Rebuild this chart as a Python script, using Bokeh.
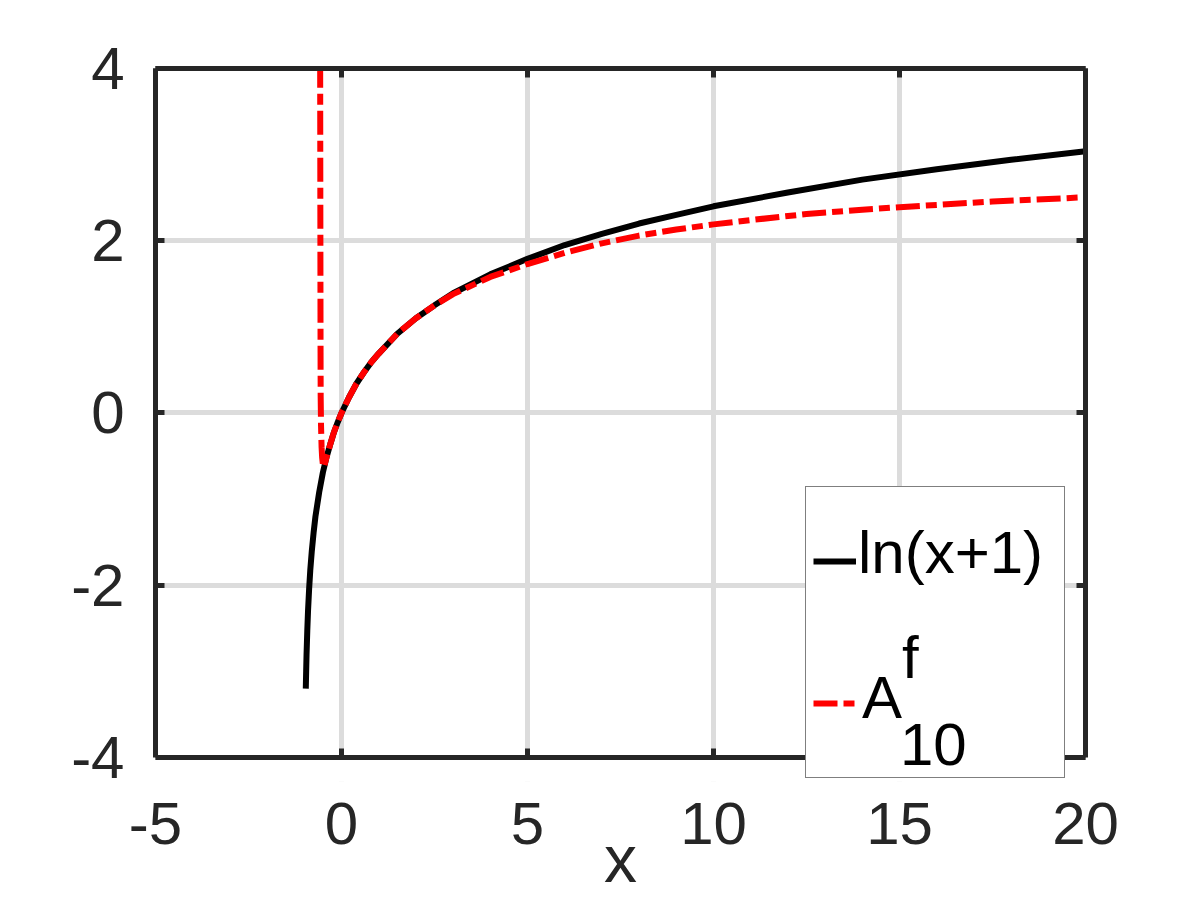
from bokeh.plotting import figure
from bokeh.models import Range1d, LinearAxis, FixedTicker, Legend, LegendItem, BoxAnnotation
from bokeh.embed import file_html
from bokeh.resources import INLINE

# ---- data ----
ln_x = [-0.96, -0.95, -0.94, -0.92, -0.9, -0.87, -0.84, -0.8, -0.75, -0.7, -0.6, -0.5,
        -0.4, -0.3, -0.2, -0.1, 0.0, 0.2, 0.4, 0.6, 0.8, 1.0, 1.5, 2.0, 2.5, 3.0, 4.0,
        5.0, 6.0, 7.0, 8.0, 9.0, 10.0, 12.0, 14.0, 16.0, 18.0, 20.0]
ln_y = [-3.2, -3.0, -2.81, -2.53, -2.30, -2.04, -1.83, -1.61, -1.39, -1.20, -0.92, -0.69,
        -0.51, -0.36, -0.22, -0.105, 0.0, 0.18, 0.34, 0.47, 0.59, 0.69, 0.92, 1.10, 1.25, 1.39, 1.61,
        1.79, 1.95, 2.08, 2.20, 2.30, 2.40, 2.56, 2.71, 2.83, 2.94, 3.04]

af_x = [-0.575, -0.572, -0.569, -0.566, -0.563, -0.56, -0.55, -0.535, -0.52, -0.5, -0.48,
        -0.46, -0.43, -0.4, -0.3, -0.2, -0.1, 0.0, 0.2, 0.4, 0.6, 0.8, 1.0, 1.5, 2.0, 2.5,
        3.0, 4.0, 5.0, 6.0, 7.0, 8.0, 9.0, 10.0, 11.0, 12.5, 14.0, 15.0, 17.5, 20.0]
af_y = [4.6, 3.5, 2.5, 1.5, 0.7, 0.2, -0.15, -0.4, -0.52, -0.6, -0.63,
        -0.61, -0.56, -0.51, -0.36, -0.22, -0.105, 0.0, 0.18, 0.34, 0.47, 0.59, 0.69, 0.92, 1.10, 1.25,
        1.38, 1.58, 1.73, 1.86, 1.97, 2.06, 2.13, 2.19, 2.24, 2.31, 2.36, 2.39, 2.455, 2.505]

x_ticks = [-5, 0, 5, 10, 15, 20]
x_tick_labels = ["-5", "0", "5", "10", "15", "20"]
y_ticks = [-4, -2, 0, 2, 4]
y_tick_labels = ["-4", "-2", "0", "2", "4"]

legend_main = ["ln(x+1)", "A"]
legend_sup = "f"
legend_sub = "10"
x_label = "x"

X_MIN, X_MAX = -5, 20
Y_MIN, Y_MAX = -4, 4
# the frame reaches a little below y = -4 so that the legend box may hang past the axis
Y_FRAME_MIN = -4.2787

FONT = "Liberation Sans"
AXIS_COLOR = "#262626"

p = figure(width=1200, height=900, x_range=Range1d(X_MIN, X_MAX), y_range=Range1d(Y_FRAME_MIN, Y_MAX),
           output_backend="svg", toolbar_location=None,
           min_border_left=155, min_border_right=115, min_border_top=68, min_border_bottom=119)
p.outline_line_color = None
p.background_fill_color = "white"
p.border_fill_color = "white"

top_axis = LinearAxis()
right_axis = LinearAxis()
x_rule = LinearAxis(fixed_location=Y_MIN)   # the x axis line itself, at y = -4
p.add_layout(top_axis, "above")
p.add_layout(right_axis, "right")
p.add_layout(x_rule, "below")


def style_axis(ax, ticks, labels, show_labels):
    ax.ticker = FixedTicker(ticks=ticks, minor_ticks=[])
    ax.axis_line_color = AXIS_COLOR
    ax.axis_line_width = 5
    ax.major_tick_line_color = AXIS_COLOR
    ax.major_tick_line_width = 5
    ax.major_tick_in = 9
    ax.major_tick_out = 0
    ax.minor_tick_line_color = None
    ax.major_label_text_font = FONT
    ax.major_label_text_font_size = "60px"
    ax.major_label_text_color = AXIS_COLOR
    if show_labels:
        ax.major_label_overrides = {t: l for t, l in zip(ticks, labels)}
    else:
        ax.major_label_overrides = {t: "" for t in ticks}


x_labels_axis = p.below[0]
style_axis(x_labels_axis, x_ticks, x_tick_labels, True)
x_labels_axis.axis_line_color = None
x_labels_axis.major_tick_line_color = None
x_labels_axis.major_label_standoff = 21
x_labels_axis.axis_label = x_label
x_labels_axis.axis_label_text_font = FONT
x_labels_axis.axis_label_text_font_size = "66px"
x_labels_axis.axis_label_text_font_style = "normal"
x_labels_axis.axis_label_text_color = AXIS_COLOR
x_labels_axis.axis_label_standoff = -25

style_axis(x_rule, x_ticks, x_tick_labels, False)

for ax in p.left:
    style_axis(ax, y_ticks, y_tick_labels, True)
    ax.major_label_standoff = 31
    ax.bounds = (Y_MIN, Y_MAX)
style_axis(top_axis, x_ticks, x_tick_labels, False)
style_axis(right_axis, y_ticks, y_tick_labels, False)
right_axis.bounds = (Y_MIN, Y_MAX)

p.xgrid.ticker = FixedTicker(ticks=x_ticks)
p.ygrid.ticker = FixedTicker(ticks=y_ticks)
for g in (p.xgrid, p.ygrid):
    g.grid_line_color = "#dcdcdc"
    g.grid_line_width = 5

# blank strip under the x axis (the grid must stop at y = -4)
p.add_layout(BoxAnnotation(top=-4.03, bottom=-5, fill_color="white", fill_alpha=1.0,
                           line_color=None, level="underlay"))

r_ln = p.line(ln_x, ln_y, line_color="black", line_width=6)
r_af = p.line(af_x, af_y, line_color="#ff0000", line_width=6, line_dash="24 6 11 6")
dummy = p.line([0], [0], line_alpha=0)

# legend box with the two line samples
box = Legend(items=[LegendItem(label=" ", renderers=[r_ln]),
                    LegendItem(label=" ", renderers=[r_af])],
             location=(650, 3), margin=0, padding=7, spacing=8,
             glyph_width=43, glyph_height=134, label_width=194, label_height=134,
             label_standoff=7, label_text_font=FONT, label_text_font_size="1px",
             border_line_color="black", border_line_width=1.5,
             background_fill_color="white", background_fill_alpha=1.0)
p.add_layout(box, "center")


def text_legend(text, loc, size="60px", color="black"):
    lg = Legend(items=[LegendItem(label=text, renderers=[dummy])],
                location=loc, margin=0, padding=0, spacing=0,
                glyph_width=0, glyph_height=80, label_height=80, label_width=10,
                label_standoff=0, label_text_font=FONT, label_text_font_size=size,
                label_text_color=color, label_text_baseline="middle",
                border_line_color=None, background_fill_alpha=0)
    p.add_layout(lg, "center")
    return lg


text_legend(legend_main[0], (703, 189))
text_legend(legend_main[1], (707, 44))
text_legend(legend_sup, (747, 84))
text_legend(legend_sub, (745, -3))

open("out.html", "w").write(file_html(p, INLINE))
